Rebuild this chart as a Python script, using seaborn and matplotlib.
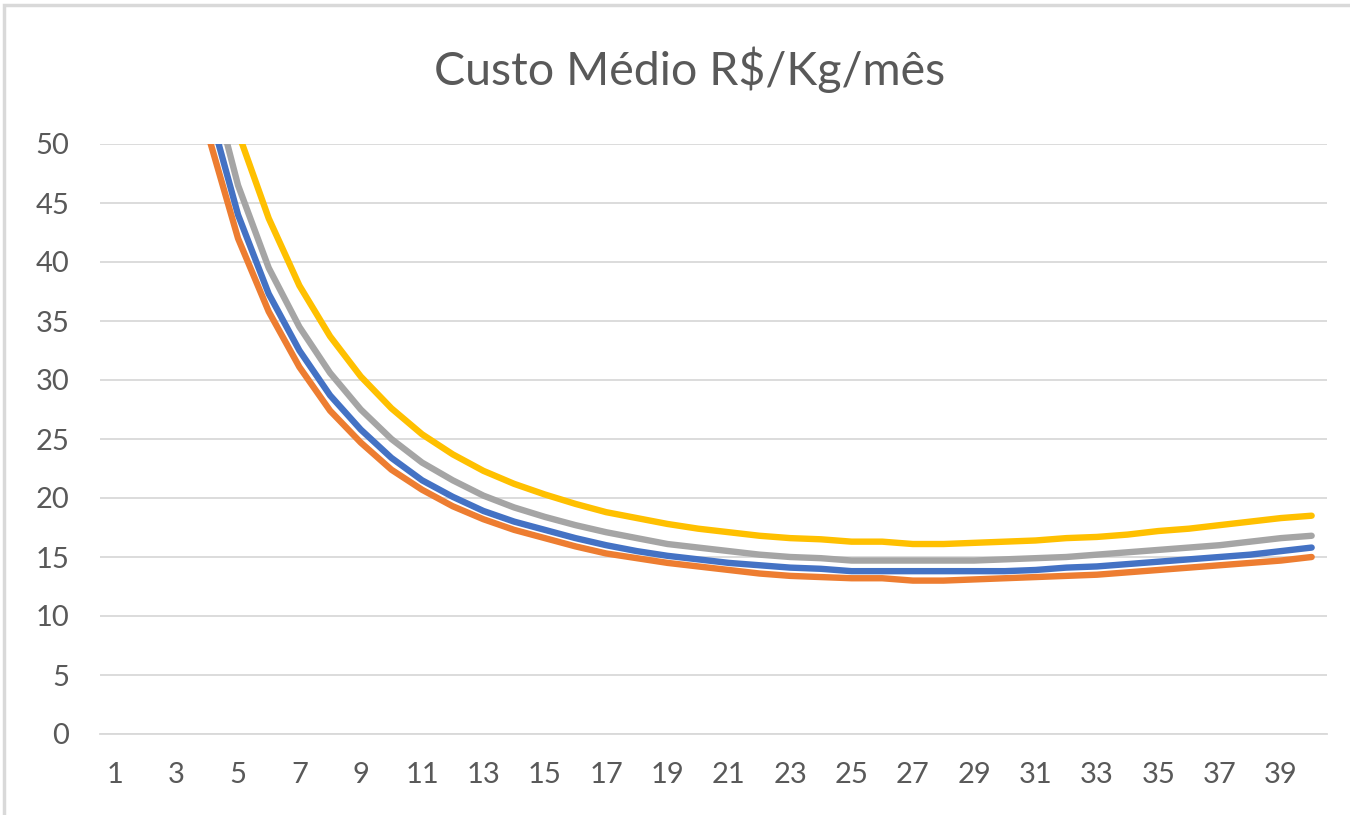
import matplotlib
matplotlib.use("Agg")
import matplotlib.pyplot as plt
import seaborn as sns
import pandas as pd
from matplotlib.patches import Rectangle

# ---- data ----
months = list(range(1, 41))
serie1_blue = [205, 106, 72, 53.5, 44.0, 37.3, 32.5, 28.7, 25.8, 23.4,
               21.5, 20.1, 18.9, 18.0, 17.3, 16.6, 16.0, 15.5, 15.1, 14.8,
               14.5, 14.3, 14.1, 14.0, 13.8, 13.8, 13.8, 13.8, 13.8, 13.8,
               13.9, 14.1, 14.2, 14.4, 14.6, 14.8, 15.0, 15.2, 15.5, 15.8]
serie2_orange = [195, 101, 69, 51.0, 42.0, 35.8, 31.1, 27.4, 24.7, 22.4,
                 20.7, 19.3, 18.2, 17.3, 16.6, 15.9, 15.3, 14.9, 14.5, 14.2,
                 13.9, 13.6, 13.4, 13.3, 13.2, 13.2, 13.0, 13.0, 13.1, 13.2,
                 13.3, 13.4, 13.5, 13.7, 13.9, 14.1, 14.3, 14.5, 14.7, 15.0]
serie3_gray = [215, 111, 76, 56.5, 46.5, 39.5, 34.5, 30.6, 27.5, 25.0,
               23.0, 21.5, 20.2, 19.2, 18.4, 17.7, 17.1, 16.6, 16.1, 15.8,
               15.5, 15.2, 15.0, 14.9, 14.7, 14.7, 14.7, 14.7, 14.7, 14.8,
               14.9, 15.0, 15.2, 15.4, 15.6, 15.8, 16.0, 16.3, 16.6, 16.8]
serie4_yellow = [235, 122, 83, 62.0, 51.0, 43.7, 38.0, 33.7, 30.3, 27.6,
                 25.4, 23.7, 22.3, 21.2, 20.3, 19.5, 18.8, 18.3, 17.8, 17.4,
                 17.1, 16.8, 16.6, 16.5, 16.3, 16.3, 16.1, 16.1, 16.2, 16.3,
                 16.4, 16.6, 16.7, 16.9, 17.2, 17.4, 17.7, 18.0, 18.3, 18.5]
series_names = ["Série1", "Série2", "Série3", "Série4"]
series_colors = ["#4472C4", "#ED7D31", "#A5A5A5", "#FFC000"]
title = "Custo Médio R$/Kg/mês"
y_ticks = [0, 5, 10, 15, 20, 25, 30, 35, 40, 45, 50]
x_ticks = list(range(1, 41, 2))

frames = []
for name, vals in zip(series_names,
                      [serie1_blue, serie2_orange, serie3_gray, serie4_yellow]):
    frames.append(pd.DataFrame({"mes": months, "custo": vals, "serie": name}))
df = pd.concat(frames, ignore_index=True)

# ---- plot ----
sns.set_style("white")
plt.rcParams["font.family"] = ["Lato", "DejaVu Sans"]

fig = plt.figure(figsize=(13.5, 8.15), dpi=100)
ax = fig.add_axes([100 / 1350, 1 - 734 / 815, 1227 / 1350, 590 / 815])

sns.lineplot(data=df, x="mes", y="custo", hue="serie",
             palette=dict(zip(series_names, series_colors)),
             linewidth=4.6, legend=False, ax=ax, sort=False)
for ln in ax.get_lines():
    ln.set_solid_capstyle("round")
    ln.set_solid_joinstyle("round")

ax.set_xlim(0.5, 40.5)
ax.set_ylim(0, 50)
ax.set_yticks(y_ticks)
ax.set_xticks(x_ticks)
ax.set_xticklabels([str(t) for t in x_ticks])
ax.set_xlabel("")
ax.set_ylabel("")
ax.yaxis.grid(True, color="#D9D9D9", linewidth=1.3)
ax.set_axisbelow(True)
for s in ["top", "right", "left"]:
    ax.spines[s].set_visible(False)
ax.spines["bottom"].set_color("#D9D9D9")
ax.spines["bottom"].set_linewidth(1.3)
ax.tick_params(axis="both", length=0, labelsize=21, colors="#595959")
ax.tick_params(axis="y", pad=22)
ax.tick_params(axis="x", pad=20)

fig.text(690 / 1350, 1 - 70 / 815, title, ha="center", va="center",
         fontsize=33.5, color="#595959")

fig.patches.append(Rectangle((4 / 1350, -0.1), 1.2, 1 - 5 / 815 + 0.1,
                             transform=fig.transFigure, fill=False,
                             edgecolor="#D9D9D9", linewidth=2.5))

fig.savefig("out.png", dpi=100, facecolor="white")
